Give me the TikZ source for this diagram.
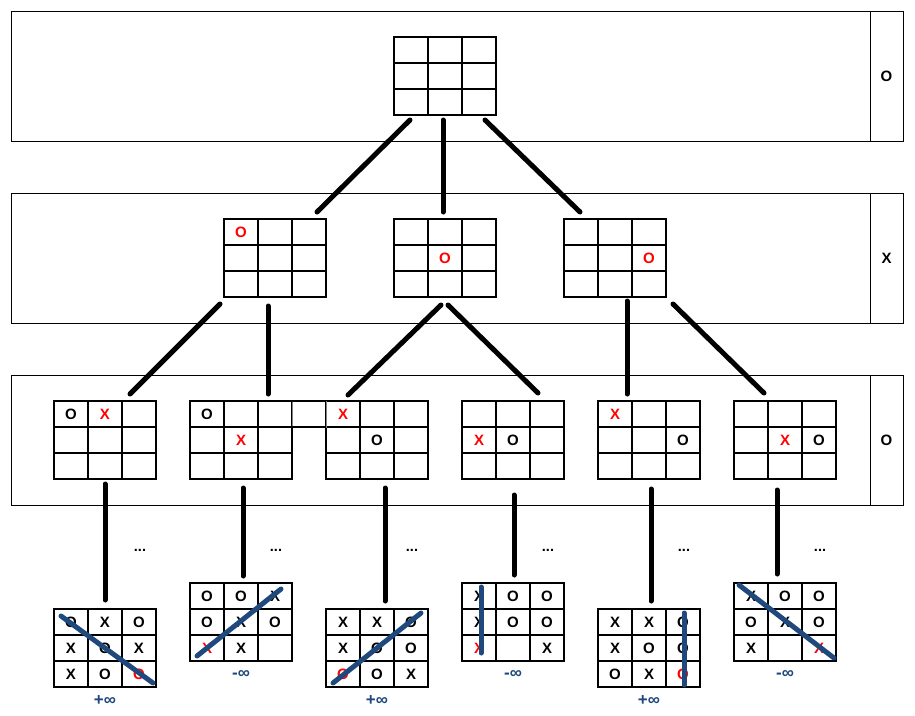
\documentclass[tikz,border=0pt]{standalone}
\usepackage{fontspec}
\setmainfont{Liberation Sans}
\usetikzlibrary{calc}
\definecolor{strk}{RGB}{31,73,125}
\definecolor{mred}{RGB}{255,0,0}
\tikzset{
  band/.style={draw, line width=1pt, inner sep=0pt, outer sep=0pt, anchor=north west, minimum height=130, minimum width=859},
  side/.style={draw, line width=1pt, inner sep=0pt, outer sep=0pt, anchor=north west, minimum height=130, minimum width=33, font=\bfseries\fontsize{15}{17}\selectfont},
  board/.style={draw, line width=1.1pt, inner sep=0pt, outer sep=0pt, anchor=north west, minimum width=102, minimum height=78},
  gridline/.style={line width=1.1pt},
  conn/.style={line width=5pt, line cap=round},
  win/.style={draw=strk, line width=5pt, line cap=round},
  mk/.style={inner sep=0pt, font=\bfseries\fontsize{15}{17}\selectfont},
  mkr/.style={mk, text=mred},
  score/.style={inner sep=0pt, text=strk, font=\bfseries\fontsize{17}{19}\selectfont},
  more/.style={inner sep=0pt, anchor=base, font=\bfseries\fontsize{14.5}{17}\selectfont}
}
\newcommand\tttboard[3]{%
  \node[board] (#1) at (#2,#3) {};
  \draw[gridline] ($(#1.north west)+(34,0)$) -- ($(#1.south west)+(34,0)$)
    ($(#1.north west)+(68,0)$) -- ($(#1.south west)+(68,0)$)
    ($(#1.north west)+(0,26)$) -- ($(#1.north east)+(0,26)$)
    ($(#1.north west)+(0,52)$) -- ($(#1.north east)+(0,52)$);
}
\newcommand\putmark[5]{\node[#5] at ($(#1.north west)+({17+34*#3},{13+26*#2})$) {#4};}
\begin{document}
\begin{tikzpicture}[x=1pt, y=-1pt]
\useasboundingbox (0,0) rectangle (915,715);
\fill[white] (0,0) rectangle (915,715);

% bands
\node[band] (row1) at (11,11) {};
\node[side] (s1) at (row1.north east) {O};
\node[band] (row2) at (11,193) {};
\node[side] (s2) at (row2.north east) {X};
\node[band] (row3) at (11,375) {};
\node[side] (s3) at (row3.north east) {O};

% top board
\tttboard{t}{394}{37}

% level 2
\tttboard{la}{224}{219}
\tttboard{lb}{394}{219}
\tttboard{lc}{564}{219}
\putmark{la}{0}{0}{O}{mkr}
\putmark{lb}{1}{1}{O}{mkr}
\putmark{lc}{1}{2}{O}{mkr}

% level 3
\tttboard{ca}{54}{401}
\tttboard{cb}{190}{401}
\tttboard{cc}{326}{401}
\tttboard{cd}{462}{401}
\tttboard{ce}{598}{401}
\tttboard{cf}{734}{401}
\putmark{ca}{0}{0}{O}{mk}\putmark{ca}{0}{1}{X}{mkr}
\putmark{cb}{0}{0}{O}{mk}\putmark{cb}{1}{1}{X}{mkr}
\putmark{cc}{0}{0}{X}{mkr}\putmark{cc}{1}{1}{O}{mk}
\putmark{cd}{1}{0}{X}{mkr}\putmark{cd}{1}{1}{O}{mk}
\putmark{ce}{0}{0}{X}{mkr}\putmark{ce}{1}{2}{O}{mk}
\putmark{cf}{1}{1}{X}{mkr}\putmark{cf}{1}{2}{O}{mk}

% stray cell between boards
\node[draw=black!50, line width=0.8pt, inner sep=0pt, outer sep=0pt, anchor=north west, minimum width=34, minimum height=26] (gap) at (292,401) {};
\draw[line width=2.6pt] (gap.north west) -- (gap.north east);
\draw[line width=2.6pt] (gap.south west) -- (gap.south east);

% bottom boards
\tttboard{da}{54}{609}
\tttboard{db}{190}{583}
\tttboard{dc}{326}{609}
\tttboard{dd}{462}{583}
\tttboard{de}{598}{609}
\tttboard{df}{734}{583}

% da: O X O / X O X / X O O(red)
\putmark{da}{0}{0}{O}{mk}\putmark{da}{0}{1}{X}{mk}\putmark{da}{0}{2}{O}{mk}
\putmark{da}{1}{0}{X}{mk}\putmark{da}{1}{1}{O}{mk}\putmark{da}{1}{2}{X}{mk}
\putmark{da}{2}{0}{X}{mk}\putmark{da}{2}{1}{O}{mk}\putmark{da}{2}{2}{O}{mkr}
% db: O O X / O X O / X(red) X _
\putmark{db}{0}{0}{O}{mk}\putmark{db}{0}{1}{O}{mk}\putmark{db}{0}{2}{X}{mk}
\putmark{db}{1}{0}{O}{mk}\putmark{db}{1}{1}{X}{mk}\putmark{db}{1}{2}{O}{mk}
\putmark{db}{2}{0}{X}{mkr}\putmark{db}{2}{1}{X}{mk}
% dc: X X O / X O O / O(red) O X
\putmark{dc}{0}{0}{X}{mk}\putmark{dc}{0}{1}{X}{mk}\putmark{dc}{0}{2}{O}{mk}
\putmark{dc}{1}{0}{X}{mk}\putmark{dc}{1}{1}{O}{mk}\putmark{dc}{1}{2}{O}{mk}
\putmark{dc}{2}{0}{O}{mkr}\putmark{dc}{2}{1}{O}{mk}\putmark{dc}{2}{2}{X}{mk}
% dd: X O O / X O O / X(red) _ X
\putmark{dd}{0}{0}{X}{mk}\putmark{dd}{0}{1}{O}{mk}\putmark{dd}{0}{2}{O}{mk}
\putmark{dd}{1}{0}{X}{mk}\putmark{dd}{1}{1}{O}{mk}\putmark{dd}{1}{2}{O}{mk}
\putmark{dd}{2}{0}{X}{mkr}\putmark{dd}{2}{2}{X}{mk}
% de: X X O / X O O / O X O(red)
\putmark{de}{0}{0}{X}{mk}\putmark{de}{0}{1}{X}{mk}\putmark{de}{0}{2}{O}{mk}
\putmark{de}{1}{0}{X}{mk}\putmark{de}{1}{1}{O}{mk}\putmark{de}{1}{2}{O}{mk}
\putmark{de}{2}{0}{O}{mk}\putmark{de}{2}{1}{X}{mk}\putmark{de}{2}{2}{O}{mkr}
% df: X O O / O X O / X _ X(red)
\putmark{df}{0}{0}{X}{mk}\putmark{df}{0}{1}{O}{mk}\putmark{df}{0}{2}{O}{mk}
\putmark{df}{1}{0}{O}{mk}\putmark{df}{1}{1}{X}{mk}\putmark{df}{1}{2}{O}{mk}
\putmark{df}{2}{0}{X}{mk}\putmark{df}{2}{2}{X}{mkr}

% winning lines
\draw[win] ($(da.north west)+(7,7)$) -- ($(da.north west)+(99,74)$);
\draw[win] ($(db.north west)+(7,73)$) -- ($(db.north west)+(91,6)$);
\draw[win] ($(dc.north west)+(7,74)$) -- ($(dc.north west)+(95,4)$);
\draw[win] ($(dd.north west)+(19,4)$) -- ($(dd.north west)+(19,70)$);
\draw[win] ($(de.north west)+(86,4)$) -- ($(de.north west)+(86,76)$);
\draw[win] ($(df.north west)+(5,2)$) -- ($(df.north west)+(100,75)$);

% scores
\node[score] (va) at ($(da.south)+(0,14)$) {+∞};
\node[score] (vb) at ($(db.south)+(0,13)$) {-∞};
\node[score] (vc) at ($(dc.south)+(0,14)$) {+∞};
\node[score] (vd) at ($(dd.south)+(0,13)$) {-∞};
\node[score] (ve) at ($(de.south)+(0,14)$) {+∞};
\node[score] (vf) at ($(df.south)+(0,13)$) {-∞};

% ellipses
\node[more] (ma) at (140,551) {...};
\node[more] (mb) at (276,551) {...};
\node[more] (mc) at (412,551) {...};
\node[more] (md) at (548,551) {...};
\node[more] (me) at (684,551) {...};
\node[more] (mf) at (820,551) {...};

% connectors top -> level 2
\draw[conn] ([shift={(16,5)}]t.south west) -- ([shift={(-9,-7)}]la.north east);
\draw[conn] ([shift={(-2,5)}]t.south) -- ([shift={(-2,-7)}]lb.north);
\draw[conn] ([shift={(-11,5)}]t.south east) -- ([shift={(16,-7)}]lc.north west);

% level 2 -> level 3
\draw[conn] ([shift={(-4,7)}]la.south west) -- ([shift={(-26,-7)}]ca.north east);
\draw[conn] ([shift={(-7,9)}]la.south) -- ([shift={(-24,-7)}]cb.north east);
\draw[conn] ([shift={(-4,8)}]lb.south) -- ([shift={(22,-6)}]cc.north west);
\draw[conn] ([shift={(3,8)}]lb.south) -- ([shift={(-26,-8)}]cd.north east);
\draw[conn] ([shift={(12,4)}]lc.south) -- ([shift={(-22,-7)}]ce.north);
\draw[conn] ([shift={(7,7)}]lc.south east) -- ([shift={(-21,-8)}]cf.north);

% level 3 -> bottom
\draw[conn] ([shift={(0,5)}]ca.south) -- ([shift={(0,-9)}]da.north);
\draw[conn] ([shift={(2,9)}]cb.south) -- ([shift={(2,-7)}]db.north);
\draw[conn] ([shift={(8,9)}]cc.south) -- ([shift={(8,-8)}]dc.north);
\draw[conn] ([shift={(1,16)}]cd.south) -- ([shift={(1,-8)}]dd.north);
\draw[conn] ([shift={(2,10)}]ce.south) -- ([shift={(2,-8)}]de.north);
\draw[conn] ([shift={(-8,11)}]cf.south) -- ([shift={(-8,-9)}]df.north);
\end{tikzpicture}
\end{document}
